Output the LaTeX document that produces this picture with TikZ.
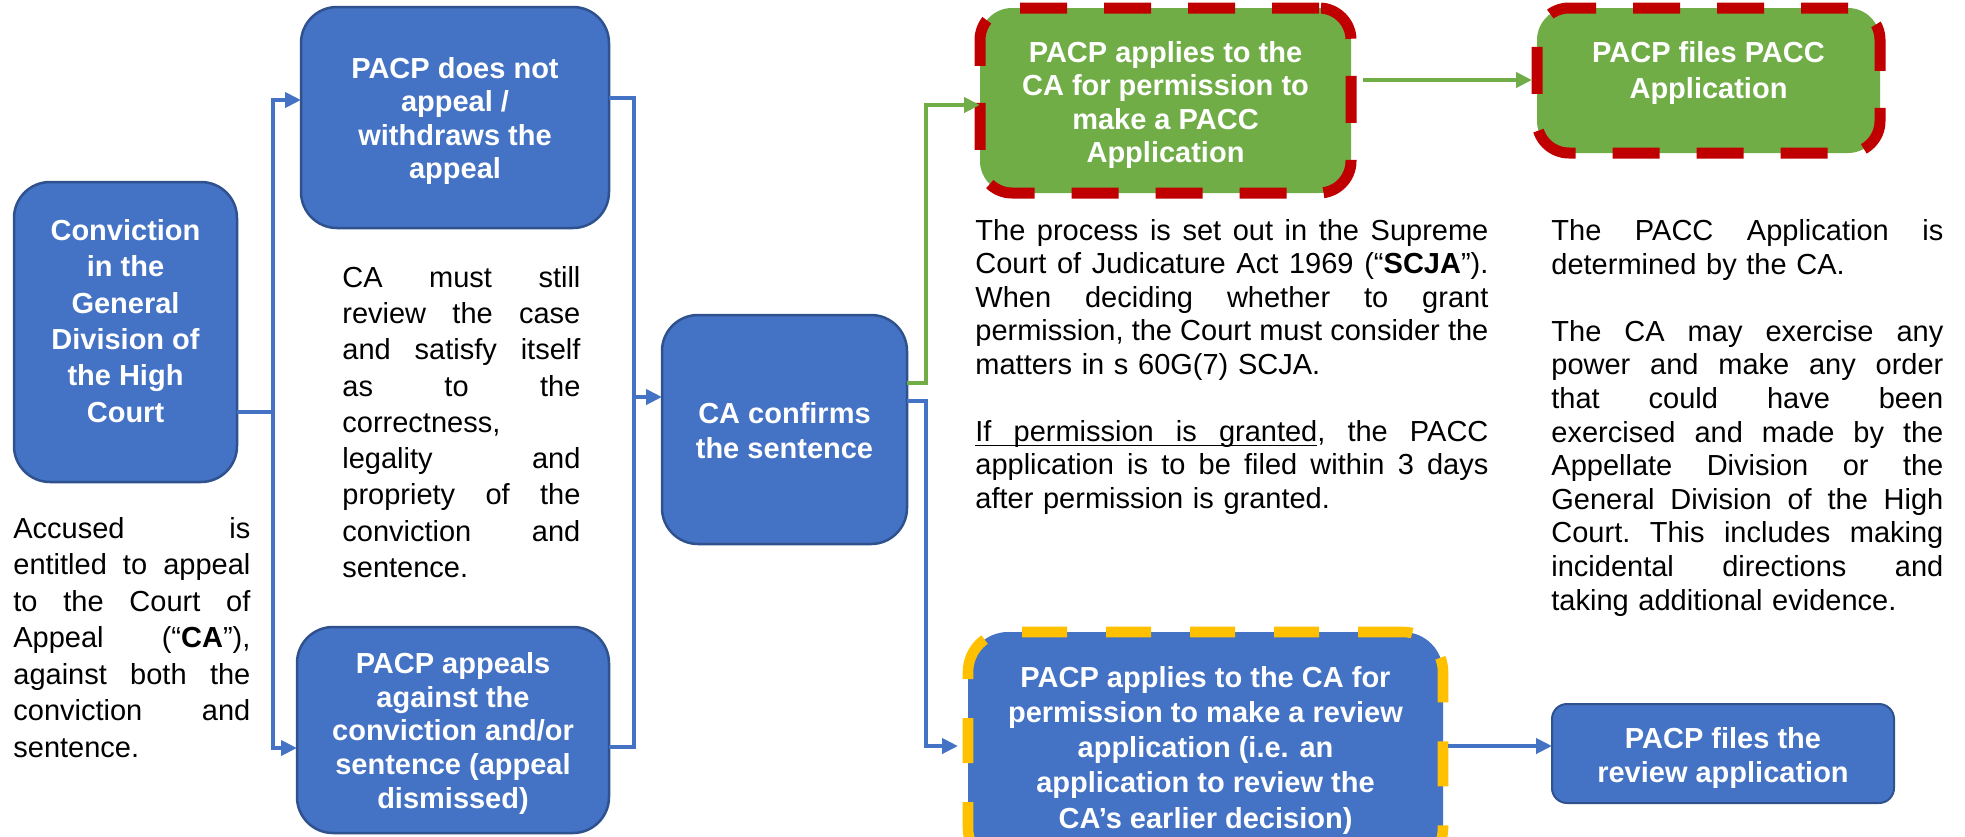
\documentclass[tikz,border=0pt]{standalone}
\usepackage{fontspec}
\setmainfont{Liberation Sans}
\usetikzlibrary{arrows.meta}
\definecolor{bfill}{HTML}{4472C4}
\definecolor{bdraw}{HTML}{2F528F}
\definecolor{gfill}{HTML}{70AD47}
\definecolor{rdash}{HTML}{C00000}
\definecolor{ydash}{HTML}{FFC000}
\newcommand\fs[1]{\fontsize{14.5pt}{#1pt}\selectfont}
\newcommand\jl[1]{\makebox[\hsize][s]{\spaceskip=0pt\xspaceskip=0pt\frenchspacing #1}}
\newsavebox\ulbox
\newcommand\ulw[1]{\sbox\ulbox{#1}\rlap{\usebox\ulbox}\leaders\hrule height -1.6pt depth 2.5pt\hskip\wd\ulbox\relax}
\newcommand\ulsp{\leaders\hrule height -1.6pt depth 2.5pt\hskip\fontdimen2\font plus\fontdimen3\font minus\fontdimen4\font\relax}
\begin{document}
\begin{tikzpicture}[x=0.5pt,y=-0.5pt]
\tikzset{
 bbox/.style={draw=bdraw, fill=bfill, line width=1.25pt, rounded corners=18pt, outer sep=0pt, inner sep=0pt},
 gbox/.style={fill=gfill, draw=rdash, line width=5.5pt, dash pattern=on 23.5pt off 18.5pt, rounded corners=16pt, outer sep=0pt, inner sep=0pt},
 ybox/.style={fill=bfill, draw=ydash, line width=5.3pt, dash pattern=on 22.5pt off 19.5pt, rounded corners=20pt, outer sep=0pt, inner sep=0pt},
 btxt/.style={text=white, align=center, inner sep=0pt, anchor=north},
 body/.style={align=left, inner sep=0pt, anchor=north west, text=black},
 bline/.style={draw=bfill, line width=2pt},
 barrow/.style={bline, -{Triangle[length=8pt,width=7.5pt]}},
 garrow/.style={draw=gfill, line width=2pt, -{Triangle[length=8pt,width=7.5pt]}},
}
\path[fill=white] (0,0) rectangle (1965,836);
\useasboundingbox (0,0) rectangle (1965,836);

% boxes
\node[bbox, minimum width=111.5pt, minimum height=150pt] (conv) at (125.5,332) {};
\node[bbox, minimum width=154pt, minimum height=110.5pt] (nota) at (455,117.5) {};
\node[bbox, minimum width=156pt, minimum height=103pt] (appeals) at (453,730) {};
\node[bbox, minimum width=122.5pt, minimum height=114.5pt] (conf) at (784.5,429.5) {};
\node[gbox, minimum width=185.5pt, minimum height=92.5pt] (g1) at (1165.5,100.5) {};
\node[gbox, minimum width=171.5pt, minimum height=72.5pt] (g2) at (1708.5,80.5) {};
\node[ybox, minimum width=237.5pt, minimum height=118pt] (yb) at (1205.5,750) {};
\node[bbox, rounded corners=7.5pt, line width=1pt, minimum width=171pt, minimum height=49.5pt] (rev) at (1723,753.5) {};

% box texts
\node[btxt, font=\fs{18.2}\bfseries] (conv-t) at (125.5,214.5) {\strut Conviction\\in the\\General\\Division of\\the High\\Court};
\node[btxt, font=\fs{16.67}\bfseries] (nota-t) at (455,54.7) {\strut PACP does not\\appeal /\\withdraws the\\appeal};
\node[btxt, font=\fs{16.875}\bfseries] (appeals-t) at (453,649.4) {\strut PACP appeals\\against the\\conviction and/or\\sentence (appeal\\dismissed)};
\node[btxt, font=\fs{17.5}\bfseries] (conf-t) at (784.5,398.5) {\strut CA confirms\\the sentence};
\node[btxt, font=\fs{16.67}\bfseries] (g1-t) at (1165.5,38.7) {\strut PACP applies to the\\CA for permission to\\make a PACC\\Application};
\node[btxt, font=\fs{18}\bfseries] (g2-t) at (1708.5,36.8) {\strut PACP files PACC\\Application};
\node[btxt, font=\fs{17.6}\bfseries] (yb-t) at (1205.5,662.3) {\strut PACP applies to the CA for\\permission to make a review\\application (i.e. an\\application to review the\\CA’s earlier decision)};
\node[btxt, font=\fs{17}\bfseries] (rev-t) at (1723,724.2) {\strut PACP files the\\review application};

% body texts
\node[body, text width=118.5pt, font=\fs{18.25}] (accused) at (13,512.5) {\noindent\strut\jl{Accused is}\\\jl{entitled to appeal}\\\jl{to the Court of}\\\jl{Appeal (“\textbf{CA}”),}\\\jl{against both the}\\\jl{conviction and}\\sentence.};
\node[body, text width=119pt, font=\fs{18.125}] (camust) at (342,261.6) {\noindent\strut\jl{CA must still}\\\jl{review the case}\\\jl{and satisfy itself}\\\jl{as to the}\\correctness,\\\jl{legality and}\\\jl{propriety of the}\\\jl{conviction and}\\sentence.};
\node[body, text width=256.5pt, font=\fs{16.75}] (process) at (975,216.5) {\noindent\strut\jl{The process is set out in the Supreme}\\\jl{Court of Judicature Act 1969 (“\textbf{SCJA}”).}\\\jl{When deciding whether to grant}\\\jl{permission, the Court must consider the}\\matters in s 60G(7) SCJA.\\\strut\\\jl{\ulw{If}\ulsp\ulw{permission}\ulsp\ulw{is}\ulsp\ulw{granted}, the PACC}\\\jl{application is to be filed within 3 days}\\after permission is granted.};
\node[body, text width=196pt, font=\fs{16.8}] (righttext) at (1551,216.5) {\noindent\strut\jl{The PACC Application is}\\determined by the CA.\\\strut\\\jl{The CA may exercise any}\\\jl{power and make any order}\\\jl{that could have been}\\\jl{exercised and made by the}\\\jl{Appellate Division or the}\\\jl{General Division of the High}\\\jl{Court. This includes making}\\\jl{incidental directions and}\\taking additional evidence.};

% connectors
\coordinate (c1) at (273,412);
\coordinate (c2) at (273,100);
\coordinate (c3) at (273,748);
\draw[bline] (conv.east |- c1) -- (c1);
\draw[barrow] (c1) -- (c2) -- (nota.west |- c2);
\draw[barrow] (c1) -- (c3) -- (appeals.west |- c3);

\coordinate (d1) at (634,98);
\coordinate (d2) at (634,747);
\coordinate (d3) at (634,397);
\draw[bline] (nota.east |- d1) -- (d1) -- (d2) -- (appeals.east |- d2);
\draw[barrow] (d3) -- (conf.west |- d3);

\coordinate (e1) at (926,383);
\coordinate (e2) at (926,105);
\draw[garrow] (conf.east |- e1) -- (e1) -- (e2) -- (g1.west |- e2);

\coordinate (h1) at (926,401);
\coordinate (h2) at (926,746);
\draw[barrow, shorten >=5pt] (conf.east |- h1) -- (h1) -- (h2) -- (yb.west |- h2);

\coordinate (f0) at (1400,80);
\draw[garrow, shorten <=6pt, shorten >=2.5pt] (g1.east |- f0) -- (g2.west |- f0);

\coordinate (k0) at (1500,746);
\draw[barrow, shorten <=2.5pt] (yb.east |- k0) -- (rev.west |- k0);
\end{tikzpicture}
\end{document}
